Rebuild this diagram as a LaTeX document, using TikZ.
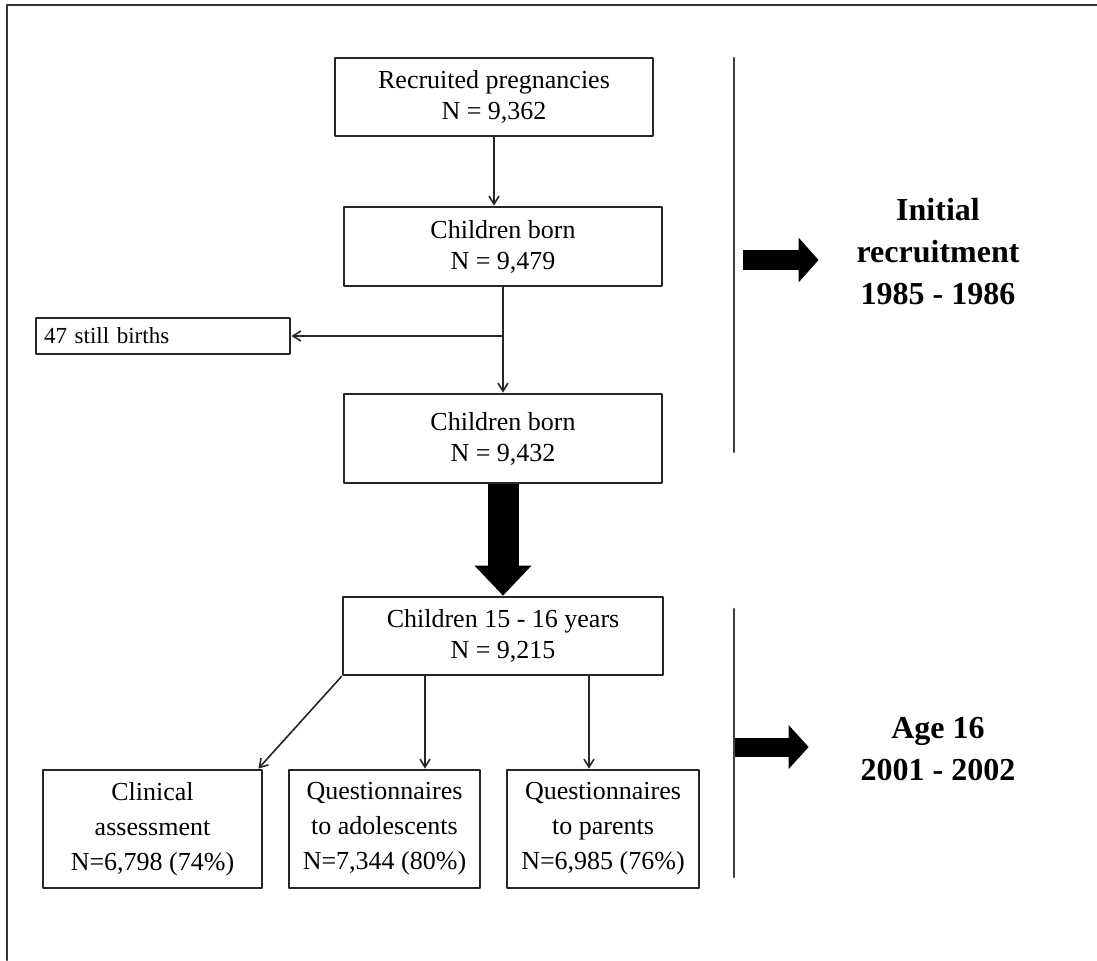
\documentclass[tikz,border=0pt]{standalone}
\usepackage{fontspec}
\setmainfont{Liberation Serif}
\usetikzlibrary{arrows.meta}

\begin{document}
\begin{tikzpicture}[x=0.5pt,y=-0.5pt,line cap=round,line join=round,
  box/.style={draw=black!85,line width=1.4pt,fill=white,align=center,inner sep=2pt,
    font=\fontsize{13}{15.5}\selectfont},
  stage/.style={align=center,font=\fontsize{16}{21}\selectfont\bfseries},
  thin/.style={draw=black!85,line width=0.8pt,-{Straight Barb[length=4pt,width=5pt]}},
  fat/.style={line width=#1,line cap=butt},
  divider/.style={draw=black!75,line width=1.3pt}]

  \useasboundingbox (0,0) rectangle (1097,960);

  % page frame
  \draw[black!80,line width=1pt] (7,960) -- (7,5) -- (1097,5);

  % main flow
  \node[box,minimum width=159pt,minimum height=39pt] (preg) at (494,97)
    {Recruited pregnancies\\N = 9,362};
  \node[box,minimum width=159pt,minimum height=39.5pt] (born) at (503,246.5)
    {Children born\\N = 9,479};
  \node[box,minimum width=127pt,minimum height=18pt,text width=119pt,align=left,
    font=\fontsize{11.5}{13}\selectfont] (still) at (163,336) {47 still births};
  \node[box,minimum width=159pt,minimum height=44.5pt] (alive) at (503,438.5)
    {Children born\\N = 9,432};
  \node[box,minimum width=160pt,minimum height=39pt] (teen) at (503,636)
    {Children 15 - 16 years\\N = 9,215};

  % follow-up boxes
  \node[box,minimum width=109.5pt,minimum height=59pt,font=\fontsize{13}{17.5}\selectfont]
    (clin) at (152.5,829) {Clinical\\assessment\\N=6,798 (74\%)};
  \node[box,minimum width=95.5pt,minimum height=59pt,font=\fontsize{13}{17.5}\selectfont]
    (adol) at (384.5,829) {Questionnaires\\to adolescents\\N=7,344 (80\%)};
  \node[box,minimum width=96pt,minimum height=59pt,font=\fontsize{13}{17.5}\selectfont]
    (par) at (603,829) {Questionnaires\\to parents\\N=6,985 (76\%)};

  % connectors
  \draw[thin] (preg) -- (preg |- born.north);
  \coordinate (split) at (born.south |- still.east);
  \draw[thin] (born) -- (alive);
  \draw[thin] (split) -- (still.east);
  \draw[fat=15.5pt,-{Triangle[length=15pt,width=28.5pt,line width=0pt]}]
    (alive.south) -- (teen.north);
  \draw[thin] (teen.south west) -- ([xshift=-2.5pt]clin.north east);
  \draw[thin] ([xshift=-39pt]teen.south) -- ([xshift=-39pt]teen.south |- adol.north);
  \draw[thin] ([xshift=43pt]teen.south) -- ([xshift=43pt]teen.south |- par.north);

  % stages on the right
  \coordinate (d1top) at (734,58);
  \coordinate (d1bot) at (734,452);
  \coordinate (d2top) at (734,609);
  \coordinate (d2bot) at (734,877);
  \draw[divider] (d1top) -- (d1bot);
  \draw[divider] (d2top) -- (d2bot);

  \node[stage] (init) at (938,252) {Initial\\recruitment\\1985 - 1986};
  \node[stage] (age) at (938,749) {Age 16\\2001 - 2002};

  \coordinate (a1) at (743,260);
  \coordinate (a2) at (735,747);
  \draw[fat=10pt,-{Triangle[length=10pt,width=22.5pt,line width=0pt]}]
    (a1) -- (a1 -| init.west) [shorten >=15.5pt];
  \draw[fat=9.5pt,-{Triangle[length=10pt,width=22pt,line width=0pt]}]
    (a2) -- (a2 -| age.west) [shorten >=22.5pt];
\end{tikzpicture}
\end{document}
